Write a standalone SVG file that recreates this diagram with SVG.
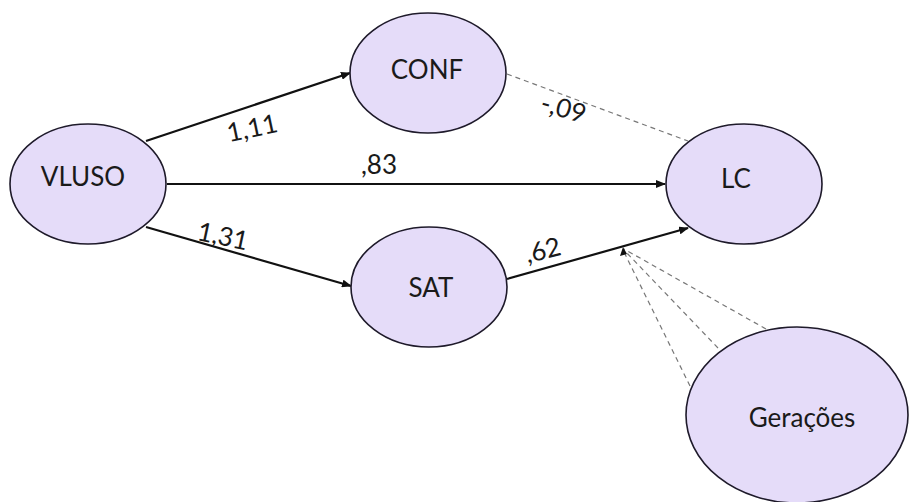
<svg xmlns="http://www.w3.org/2000/svg" width="910" height="502" viewBox="0 0 910 502">
<style>
.node{fill:#E5DCF9;stroke:#1E1A2A;stroke-width:1.6}
.t{font-family:Lato,"Liberation Sans",sans-serif;font-size:26px;fill:#1a1a1a;text-anchor:middle;dominant-baseline:central}
.lbl{font-family:Lato,"Liberation Sans",sans-serif;font-size:26px;fill:#1a1a1a;text-anchor:middle}
.e{stroke:#111;stroke-width:2.2;fill:none}
.d{stroke:#777;stroke-width:1.2;stroke-dasharray:5,4;fill:none}
</style>
<defs>
<marker id="ah" markerWidth="10" markerHeight="8" refX="9" refY="4" orient="auto" markerUnits="userSpaceOnUse">
<path d="M0,0 L10,4 L0,8 z" fill="#111"/>
</marker>
</defs>
<rect width="910" height="502" fill="#fff"/>
<g id="connectors">
<line class="e" x1="146" y1="141" x2="350" y2="73" marker-end="url(#ah)"/>
<line class="e" x1="167" y1="184" x2="665" y2="184" marker-end="url(#ah)"/>
<line class="e" x1="146" y1="227" x2="351" y2="286" marker-end="url(#ah)"/>
<line class="e" x1="507" y1="279" x2="688" y2="228" marker-end="url(#ah)"/>
<line class="d" x1="507" y1="74" x2="688" y2="141"/>
<line class="d" x1="766" y1="329" x2="624" y2="249"/>
<line class="d" x1="718" y1="348" x2="624" y2="250"/>
<line class="d" x1="690" y1="386" x2="623" y2="250"/>
<path d="M623,247 L620,256 L627,254 z" fill="#111"/>
<text class="lbl" transform="translate(254,137) rotate(-12)">1,11</text>
<text class="lbl" x="379" y="174">,83</text>
<text class="lbl" transform="translate(221,245) rotate(12)">1,31</text>
<text class="lbl" transform="translate(545,259) rotate(-14)">,62</text>
<text class="lbl" transform="translate(561,117) rotate(16)">-,09</text>
</g>
<g id="VLUSO"><ellipse class="node" cx="88" cy="184" rx="78" ry="60"/><text class="t" x="83" y="176">VLUSO</text></g>
<g id="CONF"><ellipse class="node" cx="428" cy="73" rx="78" ry="60"/><text class="t" x="427" y="69">CONF</text></g>
<g id="LC"><ellipse class="node" cx="744" cy="184" rx="78" ry="60"/><text class="t" x="736" y="178">LC</text></g>
<g id="SAT"><ellipse class="node" cx="429" cy="287" rx="78" ry="60"/><text class="t" x="431" y="287">SAT</text></g>
<g id="Geracoes"><ellipse class="node" cx="797" cy="415" rx="111" ry="88"/><text class="t" x="802" y="417">Gerações</text></g>
</svg>
